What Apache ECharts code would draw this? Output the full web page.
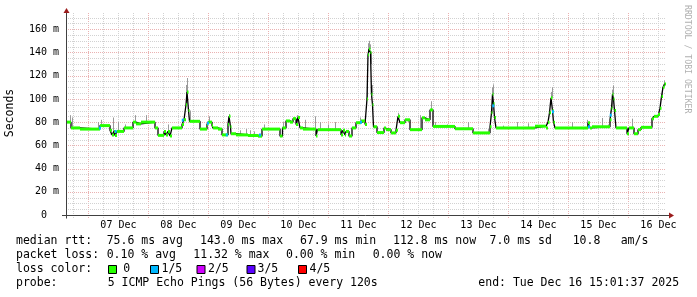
<!DOCTYPE html>
<html><head><meta charset="utf-8">
<script src="https://cdn.jsdelivr.net/npm/echarts@6/dist/echarts.min.js"></script>
<style>html,body{margin:0;padding:0;background:#fff}#c{width:697px;height:297px}</style>
</head><body><div id="c"></div>
<script>
// ---- data (hours since start: Dec 6 15:01:37, span 240 h) ----
const dayLabels = ['07 Dec','08 Dec','09 Dec','10 Dec','11 Dec','12 Dec','13 Dec','14 Dec','15 Dec','16 Dec'];
const firstMidnightHour = 8.973;   // Dec 7 00:00
const spanHours = 240;
const yMax = 174;
const yTickValues = [0,20,40,60,80,100,120,140,160];

const medianHours = [0,2,5.6,13.6,17.6,18.4,19.2,19.6,20.4,23.2,26.8,28,30,35.6,36.8,39.2,40,40.8,41.6,42.4,
  46.4,47.2,48,48.4,49,49.4,53.6,56.4,56.8,58.4,58.8,60.8,62.4,64.8,65.2,65.8,66,68,72.8,76.8,78.4,
  85.6,86.6,88,89.6,90.8,92,92.8,93.6,94.8,100,100.6,110,110.8,111.6,112,113.2,114.4,116,118,119.6,
  120.4,120.8,121.2,121.8,122.2,122.6,123,124.4,127.2,128,130,132,132.8,133.6,135.6,137.6,142.4,143.6,
  145.6,146.8,155.6,162.8,169.6,170.2,170.6,171,171.4,172,187.6,192,192.8,193.4,194,194.6,195,195.6,
  208.8,209.6,210.4,217.6,218.2,218.6,219,219.4,220,224.4,225.2,227.2,228.8,230,234.4,235.2,236.8,
  237.6,238.2,238.8,239.4];
const medianMs = [80,75,74,77,73,69,72,68.5,72,75,80,78.5,80,75,68.6,72,69,72,68,75,
  78,82,95,106,90,80.7,74,78,80,77,75,74,69,78,85,76,70,69,68.5,67.9,74,
  68,75,81,80,83,78,84,75,74,68,73.5,69,73,69,72,68,75,79.5,81,78,
  100,138,143,140,104,95,76,71,75,73.5,70.7,73,85,79.5,82,73.5,83.7,82,
  90.5,76.3,74.3,70.7,76,88,104,96,84,75,76.5,75,80,88,101,90,80,75,
  79.5,75,76,82,92,104,100,90,75,70,75,70,73.5,75.5,83,85,86.5,
  92,102,110,112.8];

const smokeHours = [1.6,2.4,12.8,14,18.8,20.8,23.6,27.6,32,40.8,48,48.4,49.6,57.2,65.2,69.6,72,73.6,75.2,79.2,
  86.8,92.4,95.6,99.6,101.6,104.8,107.6,115.6,117.6,120.4,120.8,121.2,121.6,122,122.4,132.8,136.8,141.6,146,147.6,
  152.4,160.8,168.8,170.4,170.8,174.8,180.4,184.8,194,194.4,202.4,208.4,214.4,216.8,218.4,218.8,226.4,238.4,239.2];
const smokeTopMs = [86,84,80,82,84,80,78,86,86,78,112,118,90,85,87,73,74,73,72,78,
  80,86,82,85,80,78,80,77,84,125,148,150,147,130,112,88,80,86,98,80,
  78,80,74,110,112.5,77,80,79,106,110,80,82,83.6,78,108,111.6,83,110,116];

const lossHours = [13.6,19.9,46.7,56.8,64.3,77.6,118,170.9,194.8,209.2,217.9];
const lossMs = [75,72,81.7,79,69,69,80,94,89,76,86];

const legendLossLabels = ['0','1/5','2/5','3/5','4/5'];
const lossColors = ['#26ff00','#00b8ff','#d000ff','#5a00ff','#ff0000'];

// ---- layout ----
const G = {left:66, top:13, width:600, height:202};
const axisY = G.top + G.height + 0.5, axisX = G.left + 0.5;
const MONO = 'DejaVu Sans Mono';
const MAJOR = '#eab2b2', MINOR = '#d2d2d2';

function medianAt(h){
  let v = medianMs[0];
  for (let i=0;i<medianHours.length;i++){ if (medianHours[i] <= h) v = medianMs[i]; else break; }
  return v;
}

const vGrid = [];
for (let h = firstMidnightHour - 6; h <= spanHours; h += 6) vGrid.push([h, 0]);
for (let h = firstMidnightHour; h <= spanHours; h += 24) vGrid.push([h, 1]);
const hGrid = [];
for (let y = 5; y < yMax; y += 5) if (y % 20) hGrid.push([y, 0]);
for (let y = 20; y < yMax; y += 20) hGrid.push([y, 1]);
const labelHours = dayLabels.map((d,i)=> firstMidnightHour + 12 + 24*i);

const stepData = medianHours.map((h,i)=>[h, medianMs[i]]).concat([[spanHours, medianMs[medianMs.length-1]]]);
const segData = medianHours.map((h,i)=>[h, i+1<medianHours.length?medianHours[i+1]:spanHours, medianMs[i]]);
const smokeData = smokeHours.map((h,i)=>[h, smokeTopMs[i]]);
const lossData = lossHours.map((h,i)=>[h, lossMs[i]]);

const chart = echarts.init(document.getElementById('c'), null, {renderer:'canvas'});

const texts = [];
function T(x, y, s, extra){ texts.push(Object.assign({type:'text', x, y, silent:true,
  style:{text:s, fill:'#000', font:'11.5px "DejaVu Sans Mono"', verticalAlign:'middle', align:'left'}}, extra||{})); }
T(16,241.5,'median rtt:'); T(106.7,241.5,'75.6 ms avg'); T(200,241.5,'143.0 ms max'); T(300,241.5,'67.9 ms min');
T(393,241.5,'112.8 ms now'); T(489.5,241.5,'7.0 ms sd'); T(572.7,241.5,'10.8'); T(620.7,241.5,'am/s');
T(16,255.5,'packet loss:'); T(106.7,255.5,'0.10 % avg'); T(193.3,255.5,'11.32 % max'); T(286,255.5,'0.00 % min'); T(372.7,255.5,'0.00 % now');
T(16,269.5,'loss color:');
const boxX = [108.5,150.5,197,247,298.5], lblX=[123.3,161.5,208,257.5,309.5];
legendLossLabels.forEach((l,i)=>{
  texts.push({type:'rect', silent:true, shape:{x:boxX[i], y:265.5, width:8, height:8}, style:{fill:lossColors[i], stroke:'#000', lineWidth:1}});
  T(lblX[i],269.5,l);
});
T(16,283.5,'probe:'); T(107.7,283.5,'5 ICMP Echo Pings (56 Bytes) every 120s'); T(478.3,283.5,'end: Tue Dec 16 15:01:37 2025');
texts.push({type:'text', x:10, y:113, rotation:Math.PI/2, silent:true,
  style:{text:'Seconds', fill:'#000', font:'11.5px "DejaVu Sans Mono"', align:'center', verticalAlign:'middle'}});
texts.push({type:'text', x:687, y:5, rotation:-Math.PI/2, silent:true,
  style:{text:'RRDTOOL / TOBI OETIKER', fill:'#b0b0b0', font:'8.2px "DejaVu Sans Mono"', align:'left', verticalAlign:'middle'}});
texts.push({type:'line', silent:true, z:50, shape:{x1:G.left-4, y1:axisY, x2:G.left+G.width+3, y2:axisY}, style:{stroke:'#404040', lineWidth:1}});
texts.push({type:'line', silent:true, z:50, shape:{x1:axisX, y1:axisY+3, x2:axisX, y2:G.top}, style:{stroke:'#404040', lineWidth:1}});
texts.push({type:'polygon', silent:true, z:51, shape:{points:[[axisX-3,G.top],[axisX+3,G.top],[axisX,G.top-5]]}, style:{fill:'#9b1c1c'}});
texts.push({type:'polygon', silent:true, z:51, shape:{points:[[G.left+G.width+3,axisY-3],[G.left+G.width+3,axisY+3],[G.left+G.width+8,axisY]]}, style:{fill:'#9b1c1c'}});

const option = {
  animation:false,
  backgroundColor:'#fff',
  grid:{left:G.left, top:G.top, width:G.width, height:G.height},
  xAxis:{type:'value', min:0, max:spanHours,
    axisLine:{show:false}, axisTick:{show:false}, splitLine:{show:false},
    axisLabel:{customValues:labelHours, margin:5, fontFamily:MONO, fontSize:10, color:'#000',
      formatter:(v)=> dayLabels[Math.round((v - firstMidnightHour - 12)/24)] || ''}},
  yAxis:{type:'value', min:0, max:yMax,
    axisLine:{show:false}, axisTick:{show:false}, splitLine:{show:false},
    axisLabel:{customValues:yTickValues, margin:7, fontFamily:MONO, fontSize:10, color:'#000',
      formatter:(v)=> v===0 ? '0  ' : (v + ' m')}},
  series:[
    {type:'custom', name:'vgrid', z:1, silent:true, data:vGrid, clip:false,
      renderItem:(p,api)=>{ const a=api.coord([api.value(0),0]), b=api.coord([api.value(0),yMax]); const x=Math.round(a[0])+0.5;
        return {type:'line', shape:{x1:x,y1:a[1]+3,x2:x,y2:b[1]}, style:{stroke:api.value(1)?MAJOR:MINOR, lineWidth:1, lineDash:[1,1]}}; }},
    {type:'custom', name:'hgrid', z:1, silent:true, data:hGrid,
      renderItem:(p,api)=>{ const a=api.coord([0,api.value(0)]), b=api.coord([spanHours,api.value(0)]); const y=Math.round(a[1])+0.5;
        return {type:'line', shape:{x1:a[0],y1:y,x2:b[0],y2:y}, style:{stroke:api.value(1)?MAJOR:MINOR, lineWidth:1, lineDash:[1,1]}}; }},
    {type:'custom', name:'smoke', z:2, silent:true, data:smokeData,
      renderItem:(p,api)=>{ const h=api.value(0); const a=api.coord([h, medianAt(h)]), b=api.coord([h, api.value(1)]); const x=Math.round(a[0])+0.5;
        return {type:'line', shape:{x1:x,y1:a[1],x2:x,y2:b[1]}, style:{stroke:'#9a9a9a', lineWidth:1}}; }},
    {type:'line', name:'median', z:3, step:'end', data:stepData, symbol:'none', silent:true,
      lineStyle:{color:'#000', width:1.3}},
    {type:'custom', name:'loss0', z:4, silent:true, data:segData,
      renderItem:(p,api)=>{ const a=api.coord([api.value(0), api.value(2)]), b=api.coord([api.value(1), api.value(2)]);
        return {type:'rect', shape:{x:a[0], y:a[1]-1.5, width:Math.max(1,b[0]-a[0]), height:3}, style:{fill:lossColors[0]}}; }},
    {type:'custom', name:'loss1', z:5, silent:true, data:lossData,
      renderItem:(p,api)=>{ const a=api.coord([api.value(0), api.value(1)]);
        return {type:'rect', shape:{x:a[0]-1, y:a[1]-1.5, width:2, height:3}, style:{fill:lossColors[1]}}; }}
  ],
  graphic:texts
};
chart.setOption(option);
</script></body></html>
